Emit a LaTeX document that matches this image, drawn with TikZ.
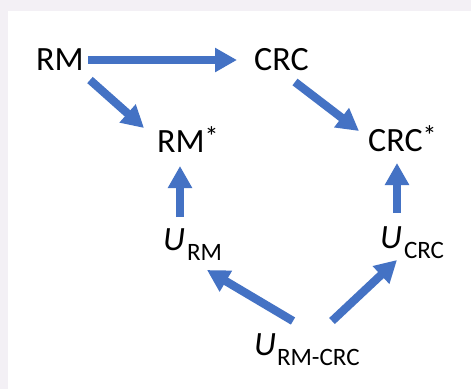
\documentclass[tikz,border=0pt]{standalone}
\usepackage{fontspec}
\setmainfont{Carlito}
\usetikzlibrary{arrows.meta,calc}
\definecolor{arrowblue}{RGB}{68,114,196}
\definecolor{frame}{RGB}{243,240,245}
\newcommand{\lbl}{\fontsize{34}{34}\selectfont}
\newcommand{\subsz}{\fontsize{25}{25}\selectfont}
\newcommand{\starmark}{\raisebox{6pt}{\fontsize{28}{28}\selectfont *}}
\newcommand{\Uvar}[2]{{\itshape U}\hspace{#2}\raisebox{-10.5pt}{\subsz #1}}
\begin{document}
\begin{tikzpicture}[x=1pt,y=-1pt,
  var/.style={inner sep=0pt,anchor=base west,font=\lbl},
  fat/.style={draw=arrowblue,line width=8.3pt,line cap=butt,
    -{Triangle[width=23pt,length=22pt]}}]
  % page and white panel
  \fill[frame] (0,0) rectangle (471,389);
  \fill[white] (8,11) rectangle (471,389);
  \useasboundingbox (0,0) rectangle (471,389);

  % variables
  \node[var] (RM)     at (36,70)   {RM};
  \node[var] (CRC)    at (254,70)  {CRC};
  \node[var] (RMs)    at (157,152) {RM\starmark};
  \node[var] (CRCs)   at (368,151) {CRC\starmark};
  \node[var] (URM)    at (163,250) {\Uvar{RM}{2pt}};
  \node[var] (UCRC)   at (380,248) {\Uvar{CRC}{2pt}};
  \node[var] (URMCRC) at (254,355) {\Uvar{RM-CRC}{1pt}};

  % causal arrows
  \draw[fat] ($(RM.base west)+(52,-10)$)     -- ($(CRC.base west)+(-17,-10)$);
  \draw[fat] ($(RM.base west)+(54,10)$)      -- ($(RMs.base west)+(-13,-24)$);
  \draw[fat] ($(CRC.base west)+(41,12)$)     -- ($(CRCs.base west)+(-9,-20)$);
  \draw[fat] ($(URM.base west)+(17,-33)$)    -- ($(RMs.base west)+(23,14)$);
  \draw[fat] ($(UCRC.base west)+(17,-35)$)   -- ($(CRCs.base west)+(29,12)$);
  \draw[fat] ($(URMCRC.base west)+(39,-34)$) -- ($(URM.base west)+(44,20)$);
  \draw[fat] ($(URMCRC.base west)+(78,-34)$) -- ($(UCRC.base west)+(17,12)$);
\end{tikzpicture}
\end{document}
